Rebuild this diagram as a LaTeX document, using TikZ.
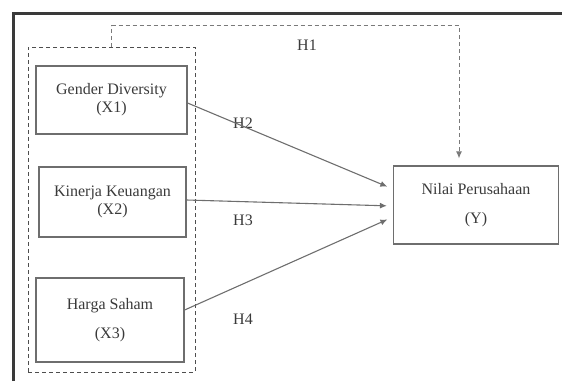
\documentclass[tikz,border=0pt]{standalone}
\usepackage{fontspec}
\setmainfont{Liberation Serif}
\usetikzlibrary{arrows.meta}

\definecolor{inkgray}{HTML}{3A3A3A}
\definecolor{boxgray}{HTML}{6E6E6E}
\definecolor{h1gray}{HTML}{7A7A7A}

\tikzstyle{varbox}=[draw=boxgray,line width=1.2pt,text=inkgray,align=center,inner sep=0pt,font=\fontsize{16}{18}\selectfont]
\tikzstyle{grpbox}=[draw=inkgray!90,line width=0.9pt,inner sep=0pt,dash pattern=on 4pt off 3pt]
\tikzstyle{hlabel}=[text=inkgray,font=\fontsize{16}{18}\selectfont]
\tikzstyle{link}=[line width=1.1pt,draw=boxgray,-{Latex[length=7pt,width=6pt]},shorten >=6pt]

\begin{document}
\begin{tikzpicture}[x=1pt,y=-1pt]
    \useasboundingbox (0,0) rectangle (562,381);
    \draw[line width=3pt,draw=inkgray] (13,381) |- (562,13);
    \node (grp)[grpbox,minimum width=167pt,minimum height=325pt] at (111.5,209.5) {};
    \node (x1)[varbox,minimum width=151pt,minimum height=68pt] at (111.5,100) {Gender Diversity\\(X1)};
    \node (x2)[varbox,minimum width=147pt,minimum height=70pt] at (112.5,202) {Kinerja Keuangan\\(X2)};
    \node (x3)[varbox,minimum width=148pt,minimum height=84pt] at (110,320) {Harga Saham\\[11pt](X3)};
    \node (y)[varbox,minimum width=165pt,minimum height=78pt] at (476,205) {Nilai Perusahaan\\[11pt](Y)};
    \node (h1)[hlabel] at (307,45) {H1};
    \node (h2)[hlabel] at (243,123) {H2};
    \node (h3)[hlabel] at (243,220) {H3};
    \node (h4)[hlabel] at (243,319) {H4};
    \draw[grpbox,draw=h1gray,line width=1pt,-{Latex[length=7pt,width=6pt]},shorten >=7pt] (grp.north) -- ++(0,-21) -| ([xshift=-17pt]y.north);
    \draw[link] ([yshift=-3pt]x1.east) -- ([yshift=16pt]y.west);
    \draw[link] ([yshift=2pt]x2.east) -- ([yshift=-1pt]y.west);
    \draw[link] ([yshift=10pt]x3.east) -- ([yshift=-12pt]y.west);
\end{tikzpicture}
\end{document}
